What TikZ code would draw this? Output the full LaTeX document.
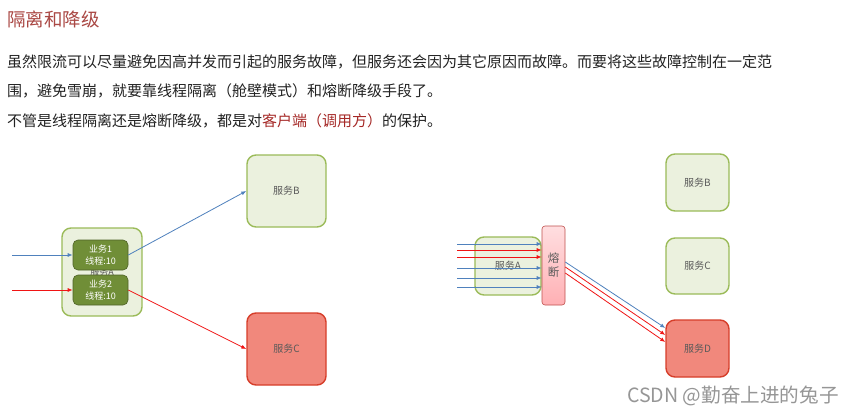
\documentclass[tikz,border=0pt]{standalone}
\usepackage{fontspec}
\setmainfont{Noto Sans CJK SC}
\usetikzlibrary{arrows.meta,calc}
\definecolor{titlered}{RGB}{170,72,68}
\definecolor{linkred}{RGB}{165,40,38}
\definecolor{bodytext}{RGB}{34,34,34}
\definecolor{gfill}{RGB}{235,241,222}
\definecolor{gdraw}{RGB}{155,187,89}
\definecolor{rfill}{RGB}{241,136,124}
\definecolor{rdraw}{RGB}{214,62,42}
\definecolor{bizfill}{RGB}{112,142,55}
\definecolor{bizdraw}{RGB}{79,98,40}
\definecolor{fusetop}{RGB}{255,222,224}
\definecolor{fusebot}{RGB}{255,176,180}
\definecolor{fusedraw}{RGB}{192,80,77}
\definecolor{lblue}{RGB}{79,129,189}
\definecolor{lred}{RGB}{240,20,20}
\definecolor{svctext}{RGB}{90,90,90}
\definecolor{wmark}{RGB}{150,150,150}
\tikzset{
  svc/.style={draw=gdraw, line width=1.4pt, fill=gfill, rounded corners=9pt,
    inner sep=0pt, text=svctext, font=\fontsize{10}{12}\selectfont},
  svcred/.style={svc, draw=rdraw, fill=rfill},
  bizbox/.style={draw=bizdraw, line width=0.6pt, fill=bizfill, rounded corners=5pt,
    inner sep=0pt, minimum width=55pt, minimum height=30pt, text=white,
    align=center, font=\fontsize{9}{11.5}\selectfont},
  fusebox/.style={draw=fusedraw, line width=0.6pt, top color=fusetop, bottom color=fusebot,
    rounded corners=3pt, inner sep=0pt, minimum width=23pt, minimum height=79pt,
    align=center, text=svctext, font=\fontsize{11.5}{14}\selectfont},
  bluearrow/.style={draw=lblue, line width=0.8pt, -{Latex[length=5pt,width=4pt]}},
  redarrow/.style={draw=lred, line width=0.8pt, -{Latex[length=5pt,width=4pt]}},
  bodyline/.style={anchor=west, inner sep=0pt, text=bodytext, font=\fontsize{15}{18}\selectfont},
}
\begin{document}
\begin{tikzpicture}[x=1pt,y=-1pt]
\path[use as bounding box, fill=white] (0,0) rectangle (853,415);

% header text
\node[anchor=west, inner sep=0pt, text=titlered, font=\fontsize{18.5}{22}\selectfont] (title) at (7,19) {隔离和降级};
\node[bodyline] (p1) at (7,62) {虽然限流可以尽量避免因高并发而引起的服务故障，但服务还会因为其它原因而故障。而要将这些故障控制在一定范};
\node[bodyline] (p2) at (7,91) {围，避免雪崩，就要靠线程隔离（舱壁模式）和熔断降级手段了。};
\node[bodyline] (p3) at (7,121) {不管是线程隔离还是熔断降级，都是对\textcolor{linkred}{客户端（调用方）}的保护。};

% left diagram
\node[svc, minimum width=80pt, minimum height=88pt, font=\fontsize{9}{11}\selectfont] (svcA) at (102,272) {服务A};
\node[bizbox] (biz1) at (100.5,255) {业务1\\线程:10};
\node[bizbox] (biz2) at (100.5,290) {业务2\\线程:10};
\node[svc, minimum width=79pt, minimum height=72pt] (svcB) at (286.5,191) {服务B};
\node[svcred, minimum width=79pt, minimum height=72pt] (svcC) at (286.5,349) {服务C};

\coordinate (inL1) at (12,255);
\coordinate (inL2) at (12,290);
\draw[bluearrow] (inL1) -- (biz1.west);
\draw[redarrow] (inL2) -- (biz2.west);
\draw[bluearrow] (biz1.east) -- (svcB.west);
\draw[redarrow] (biz2.east) -- (svcC.west);

% right diagram
\node[svc, minimum width=66pt, minimum height=58pt] (rA) at (508,266) {服务A};
\node[fusebox] (fuse) at (553.5,265.5) {熔\\断};
\node[svc, minimum width=63pt, minimum height=57pt] (rB) at (697.5,182.5) {服务B};
\node[svc, minimum width=63pt, minimum height=56pt] (rC) at (697.5,266) {服务C};
\node[svcred, minimum width=63pt, minimum height=57pt] (rD) at (697.5,348.5) {服务D};

\coordinate (in1) at (457,244);
\coordinate (in2) at (457,250);
\coordinate (in3) at (457,257);
\coordinate (in4) at (457,268);
\coordinate (in5) at (457,278);
\coordinate (in6) at (457,287);
\draw[bluearrow] (in1) -- (in1 -| fuse.west);
\draw[redarrow] (in2) -- (in2 -| fuse.west);
\draw[redarrow] (in3) -- (in3 -| fuse.west);
\draw[bluearrow] (in4) -- (in4 -| fuse.west);
\draw[bluearrow] (in5) -- (in5 -| fuse.west);
\draw[bluearrow] (in6) -- (in6 -| fuse.west);

\draw[bluearrow] ([yshift=3.5pt]fuse.east) -- ([yshift=20.5pt]rD.west);
\draw[redarrow] ([yshift=-1.5pt]fuse.east) -- ([yshift=13.5pt]rD.west);
\draw[redarrow] ([yshift=-7.5pt]fuse.east) -- ([yshift=6.5pt]rD.west);

% watermark
\node[anchor=west, inner sep=0pt, text=wmark, font=\fontsize{19.6}{23}\selectfont] (wm) at (627,396) {CSDN @勤奋上进的兔子};
\end{tikzpicture}
\end{document}
